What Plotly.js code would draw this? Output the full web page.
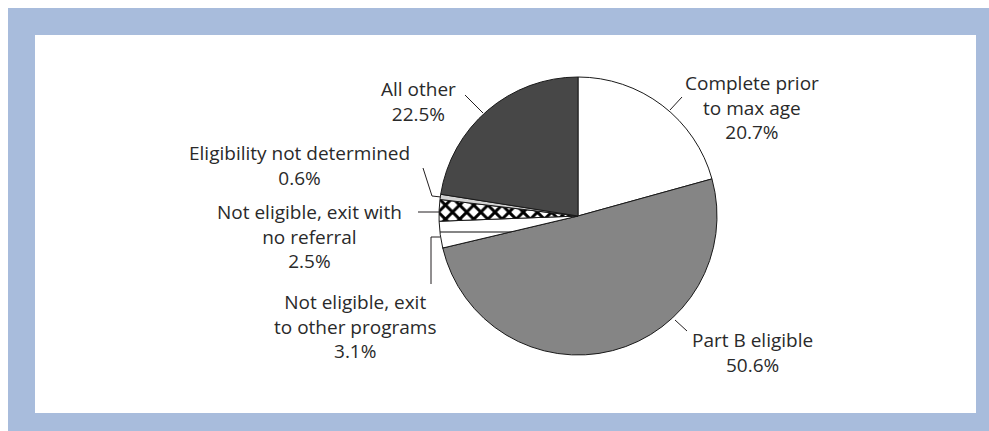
<!DOCTYPE html>
<html>
<head>
<meta charset="utf-8">
<script src="https://cdn.plot.ly/plotly-3.0.1.min.js"></script>
<style>html,body{margin:0;padding:0;background:#fff;}#chart{width:989px;height:431px;}</style>
</head>
<body>
<div id="chart"></div>
<script>
// Data
const categories = [
  "Complete prior to max age",
  "Part B eligible",
  "Not eligible, exit to other programs",
  "Not eligible, exit with no referral",
  "Eligibility not determined",
  "All other"
];
const values = [20.7, 50.6, 3.1, 2.5, 0.6, 22.5];
const labelTexts = [
  "Complete prior<br>to max age<br>20.7%",
  "Part B eligible<br>50.6%",
  "Not eligible, exit<br>to other programs<br>3.1%",
  "Not eligible, exit with<br>no referral<br>2.5%",
  "Eligibility not determined<br>0.6%",
  "All other<br>22.5%"
];
const sliceColors = ["#ffffff", "#858585", "#ffffff", "#ffffff", "#d2d2d2", "#474747"];
const slicePatterns = ["", "", "-", "x", "", ""];

const W = 989, H = 431;
const px = x => x / W;
const py = y => 1 - y / H;

// label centres (pixels) and leader lines (pixel paths)
const labelPos = [[752, 108], [752, 352], [355, 326], [309, 236], [299, 165], [418, 101]];
const leaders = [
  [[682, 97], [670, 110]],
  [[675, 320], [687, 331]],
  [[431, 284], [431, 237], [440, 237]],
  [[418, 212], [440, 212]],
  [[423, 168], [432, 196], [441, 197]],
  [[465, 95], [483, 113]]
];

const cx = 578, cy = 216, r = 139;

const trace = {
  type: "pie",
  labels: categories,
  values: values,
  sort: false,
  direction: "clockwise",
  rotation: 0,
  textinfo: "none",
  hoverinfo: "none",
  showlegend: false,
  marker: {
    colors: sliceColors,
    line: {color: "#1a1a1a", width: 1},
    pattern: {
      shape: slicePatterns,
      fgcolor: "#000000",
      bgcolor: sliceColors,
      size: [8, 8, 16, 10, 8, 8],
      solidity: [0.3, 0.3, 0.06, 0.5, 0.3, 0.3],
      fillmode: "replace"
    }
  },
  domain: {x: [px(cx - r), px(cx + r)], y: [py(cy + r), py(cy - r)]}
};

const shapes = [
  {type: "rect", xref: "paper", yref: "paper", x0: px(8), x1: px(989), y0: py(431), y1: py(8),
   fillcolor: "#a8bcdc", line: {width: 0}, layer: "below"},
  {type: "rect", xref: "paper", yref: "paper", x0: px(35), x1: px(976), y0: py(413), y1: py(35),
   fillcolor: "#ffffff", line: {width: 0}, layer: "below"}
];
leaders.forEach(pts => {
  const d = pts.map((p, i) => (i ? "L" : "M") + px(p[0]) + "," + py(p[1])).join(" ");
  shapes.push({type: "path", xref: "paper", yref: "paper", path: d,
    line: {color: "#231f20", width: 1}, layer: "above"});
});

const annotations = labelTexts.map((t, i) => ({
  xref: "paper", yref: "paper",
  x: px(labelPos[i][0]), y: py(labelPos[i][1]),
  xanchor: "center", yanchor: "middle",
  text: t, showarrow: false, align: "center",
  font: {family: "Open Sans, sans-serif", size: 19, color: "#2a2a2a"}
}));

const layout = {
  width: W, height: H,
  margin: {l: 0, r: 0, t: 0, b: 0},
  paper_bgcolor: "#ffffff",
  shapes: shapes,
  annotations: annotations
};

Plotly.newPlot("chart", [trace], layout, {displayModeBar: false, staticPlot: true});
</script>
</body>
</html>
